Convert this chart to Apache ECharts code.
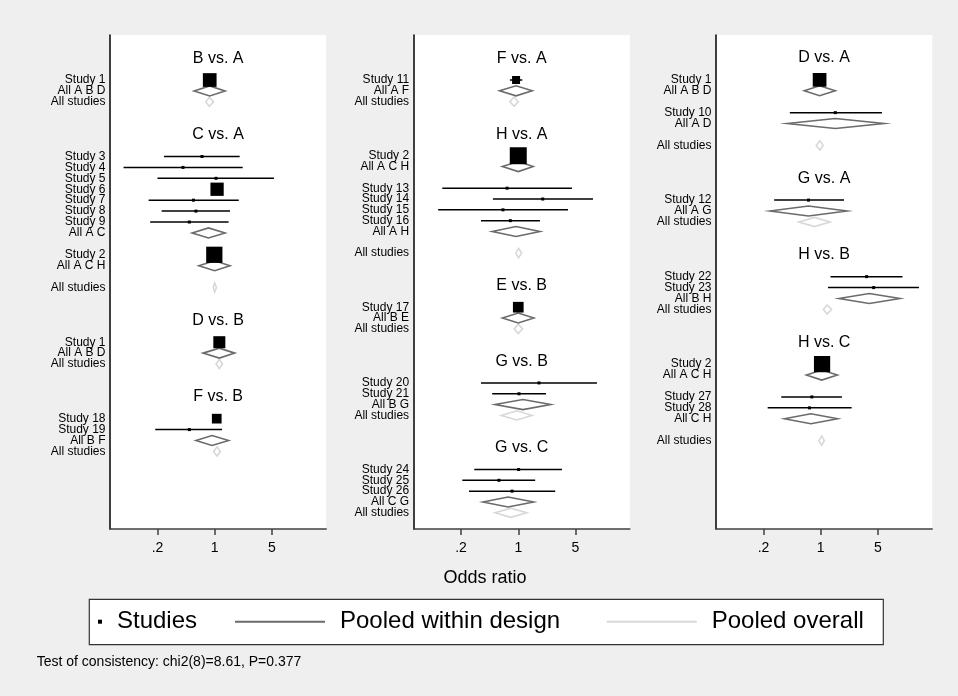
<!DOCTYPE html>
<html><head><meta charset="utf-8">
<script src="https://cdn.jsdelivr.net/npm/echarts@6/dist/echarts.min.js"></script>
<style>html,body{margin:0;padding:0;background:#efefef}#c{width:958px;height:696px}</style>
</head><body><div id="c"></div>
<script>
const FONT = '"Liberation Sans", Arial, Helvetica, sans-serif';

// Odds-ratio axis ticks
const tickValues = [0.2, 1, 5];
const tickLabels = ['.2', '1', '5'];
const legendNames = ['Studies', 'Pooled within design', 'Pooled overall'];
const axisTitle = 'Odds ratio';
const footnote = 'Test of consistency: chi2(8)=8.61, P=0.377';

// Rows top to bottom: [label, kind, OR, lower, upper, weight]
// kind: T = comparison title, S = study, D = pooled within design, O = pooled overall, '' = empty row
const panel1Rows = [
  ['B vs. A','T'], ['',''],
  ['Study 1','S',0.87,0.75,1.01,47],
  ['All A B D','D',0.87,0.56,1.34],
  ['All studies','O',0.86,0.78,0.97],
  ['',''], ['',''],
  ['C vs. A','T'], ['',''],
  ['Study 3','S',0.70,0.24,2.02,2.25],
  ['Study 4','S',0.41,0.077,2.20,2.25],
  ['Study 5','S',1.04,0.20,5.30,2.25],
  ['Study 6','S',1.07,0.93,1.23,44],
  ['Study 7','S',0.55,0.156,1.97,2.25],
  ['Study 8','S',0.59,0.225,1.54,2.25],
  ['Study 9','S',0.49,0.163,1.48,2.25],
  ['All A C','D',0.84,0.53,1.34],
  ['',''],
  ['Study 2','S',0.99,0.85,1.15,66],
  ['All A C H','D',1.00,0.64,1.54],
  ['',''],
  ['All studies','O',1.00,0.96,1.05],
  ['',''], ['',''],
  ['D vs. B','T'], ['',''],
  ['Study 1','S',1.14,1.02,1.27,36],
  ['All A B D','D',1.14,0.72,1.76],
  ['All studies','O',1.14,1.04,1.25],
  ['',''], ['',''],
  ['F vs. B','T'], ['',''],
  ['Study 18','S',1.06,0.97,1.16,23.5],
  ['Study 19','S',0.49,0.188,1.23,2.25],
  ['All B F','D',0.93,0.59,1.48],
  ['All studies','O',1.07,0.97,1.17]
];

const panel2Rows = [
  ['F vs. A','T'], ['',''],
  ['Study 11','S',0.94,0.79,1.12,16],
  ['All A F','D',0.94,0.59,1.48],
  ['All studies','O',0.89,0.79,1.00],
  ['',''], ['',''],
  ['H vs. A','T'], ['',''],
  ['Study 2','S',1.00,0.86,1.16,72],
  ['All A C H','D',1.00,0.64,1.52],
  ['',''],
  ['Study 13','S',0.73,0.118,4.53,2.25],
  ['Study 14','S',1.99,0.49,8.18,2.25],
  ['Study 15','S',0.65,0.105,4.05,2.25],
  ['Study 16','S',0.80,0.35,1.84,2.25],
  ['All A H','D',0.94,0.48,1.84],
  ['',''],
  ['All studies','O',1.01,0.93,1.10],
  ['',''], ['',''],
  ['E vs. B','T'], ['',''],
  ['Study 17','S',1.00,0.90,1.11,28.6],
  ['All B E','D',1.00,0.64,1.55],
  ['All studies','O',1.00,0.89,1.13],
  ['',''], ['',''],
  ['G vs. B','T'], ['',''],
  ['Study 20','S',1.79,0.35,9.15,2.25],
  ['Study 21','S',1.02,0.48,2.18,2.25],
  ['All B G','D',1.14,0.52,2.49],
  ['All studies','O',0.96,0.62,1.48],
  ['',''], ['',''],
  ['G vs. C','T'], ['',''],
  ['Study 24','S',1.01,0.29,3.42,2.25],
  ['Study 25','S',0.58,0.207,1.61,2.25],
  ['Study 26','S',0.84,0.25,2.83,2.25],
  ['All C G','D',0.75,0.37,1.54],
  ['All studies','O',0.81,0.52,1.27]
];

const panel3Rows = [
  ['D vs. A','T'], ['',''],
  ['Study 1','S',0.97,0.85,1.10,47],
  ['All A B D','D',0.97,0.63,1.51],
  ['',''],
  ['Study 10','S',1.51,0.42,5.61,2.25],
  ['All A D','D',1.51,0.39,5.94],
  ['',''],
  ['All studies','O',0.98,0.88,1.07],
  ['',''], ['',''],
  ['G vs. A','T'], ['',''],
  ['Study 12','S',0.71,0.27,1.93,2.25],
  ['All A G','D',0.71,0.24,2.10],
  ['All studies','O',0.84,0.54,1.30],
  ['',''], ['',''],
  ['H vs. B','T'], ['',''],
  ['Study 22','S',3.65,1.32,10.0,2.25],
  ['Study 23','S',4.44,1.23,15.9,2.25],
  ['All B H','D',3.93,1.67,9.31],
  ['All studies','O',1.20,1.08,1.36],
  ['',''], ['',''],
  ['H vs. C','T'], ['',''],
  ['Study 2','S',1.04,0.90,1.20,66],
  ['All A C H','D',1.03,0.67,1.60],
  ['',''],
  ['Study 27','S',0.78,0.33,1.82,2.25],
  ['Study 28','S',0.73,0.225,2.39,2.25],
  ['All C H','D',0.76,0.36,1.61],
  ['',''],
  ['All studies','O',1.03,0.95,1.11]
];

// ---- layout / styling ----
const panels = [panel1Rows, panel2Rows, panel3Rows];
const yRanges = [[-2.12, 43.1], [-2.16, 43.5], [-2.1, 43.08]];
const gridLefts = [110, 413.6, 716];
const X_MIN = -1.83, X_MAX = 1.95;
const L5 = Math.log(5);
const lg = v => Math.log(v) / L5;
const tickPos = tickValues.map(lg);
const DESIGN_COLOR = '#6b6b6b', OVERALL_COLOR = '#d8d8d8';

const chart = echarts.init(document.getElementById('c'), null, {renderer: 'canvas'});

const grids = [], xAxes = [], yAxes = [], series = [];
panels.forEach((rows, i) => {
  grids.push({left: gridLefts[i], top: 35, width: 216.2, height: 494, show: true,
    backgroundColor: '#ffffff', borderWidth: 0, containLabel: false});
  xAxes.push({
    gridIndex: i, type: 'value', min: X_MIN, max: X_MAX, position: 'bottom',
    axisLine: {show: true, onZero: false, lineStyle: {color: '#404040', width: 1.5}},
    axisTick: {show: true, customValues: tickPos, length: 6, lineStyle: {color: '#404040', width: 1.5}},
    axisLabel: {customValues: tickPos, margin: 12, fontSize: 14, color: '#000', fontFamily: FONT,
      formatter: v => { const k = tickPos.findIndex(t => Math.abs(t - v) < 1e-6); return k >= 0 ? tickLabels[k] : ''; }},
    splitLine: {show: false}
  });
  yAxes.push({
    gridIndex: i, type: 'value', inverse: true, min: yRanges[i][0], max: yRanges[i][1],
    axisLine: {show: true, onZero: false, lineStyle: {color: '#000', width: 1.5}},
    axisTick: {show: false}, splitLine: {show: false}, axisLabel: {show: false}
  });

  const studies = [], design = [], overall = [], titleRows = [], titleTexts = [], labelRows = [], labelTexts = [];
  rows.forEach((r, k) => {
    if (r[1] === 'S') studies.push([k, lg(r[3]), lg(r[2]), lg(r[4]), r[5]]);
    else if (r[1] === 'D') design.push([k, lg(r[3]), lg(r[2]), lg(r[4])]);
    else if (r[1] === 'O') overall.push([k, lg(r[3]), lg(r[2]), lg(r[4])]);
    else if (r[1] === 'T') { titleRows.push([0, k]); titleTexts.push(r[0]); }
    if (r[1] === 'S' || r[1] === 'D' || r[1] === 'O') { labelRows.push([0, k]); labelTexts.push(r[0]); }
  });

  const diamond = (h, color) => (params, api) => {
    const row = api.value(0);
    const lo = api.coord([api.value(1), row]);
    const es = api.coord([api.value(2), row]);
    const hi = api.coord([api.value(3), row]);
    return {type: 'polygon', shape: {points: [[lo[0], lo[1]], [es[0], es[1] - h], [hi[0], hi[1]], [es[0], es[1] + h]]},
      style: {fill: 'rgba(255,255,255,0)', stroke: color, lineWidth: 1.6}};
  };

  series.push({
    type: 'custom', name: legendNames[2], xAxisIndex: i, yAxisIndex: i, clip: false,
    itemStyle: {color: OVERALL_COLOR}, encode: {x: [1, 2, 3], y: 0},
    renderItem: diamond(4.6, OVERALL_COLOR), data: overall, z: 2
  });
  series.push({
    type: 'custom', name: legendNames[1], xAxisIndex: i, yAxisIndex: i, clip: false,
    itemStyle: {color: DESIGN_COLOR}, encode: {x: [1, 2, 3], y: 0},
    renderItem: diamond(5, DESIGN_COLOR), data: design, z: 3
  });
  series.push({
    type: 'custom', name: legendNames[0], xAxisIndex: i, yAxisIndex: i, clip: false,
    itemStyle: {color: '#000'}, encode: {x: [1, 2, 3], y: 0}, z: 4,
    renderItem: (params, api) => {
      const row = api.value(0);
      const lo = api.coord([api.value(1), row]);
      const es = api.coord([api.value(2), row]);
      const hi = api.coord([api.value(3), row]);
      const s = 2 * Math.sqrt(api.value(4));
      return {type: 'group', children: [
        {type: 'line', shape: {x1: lo[0], y1: lo[1], x2: hi[0], y2: hi[1]}, style: {stroke: '#000', lineWidth: 1.5}},
        {type: 'rect', shape: {x: es[0] - s / 2, y: es[1] - s / 2, width: s, height: s}, style: {fill: '#000'}}
      ]};
    },
    data: studies
  });
  // comparison titles inside the plot
  series.push({
    type: 'custom', name: 'titles' + i, xAxisIndex: i, yAxisIndex: i, clip: false,
    encode: {x: 0, y: 1}, silent: true, z: 5,
    renderItem: (params, api) => {
      const y = api.coord([0, api.value(1)])[1];
      const cs = params.coordSys;
      return {type: 'text', x: cs.x + cs.width / 2, y: y,
        style: {text: titleTexts[params.dataIndex], fontSize: 16, fontFamily: FONT, fill: '#000',
          align: 'center', verticalAlign: 'middle'}};
    },
    data: titleRows
  });
  // row labels left of each panel
  series.push({
    type: 'custom', name: 'rowlabels' + i, xAxisIndex: i, yAxisIndex: i, clip: false,
    encode: {x: 0, y: 1}, silent: true, z: 5,
    renderItem: (params, api) => {
      const y = api.coord([0, api.value(1)])[1];
      const cs = params.coordSys;
      return {type: 'text', x: cs.x - 4.5, y: y,
        style: {text: labelTexts[params.dataIndex], fontSize: 12, fontFamily: FONT, fill: '#000',
          align: 'right', verticalAlign: 'middle'}};
    },
    data: labelRows
  });
});

const legendBase = {orient: 'horizontal', top: 609.7, padding: 0, selectedMode: false,
  textStyle: {fontSize: 24, color: '#000', fontFamily: FONT, padding: [0, 0, 0, 10]}};
const legends = [
  Object.assign({}, legendBase, {left: 98, itemWidth: 4, itemHeight: 4,
    data: [{name: legendNames[0], icon: 'rect', itemStyle: {color: '#000'}}]}),
  Object.assign({}, legendBase, {left: 235, itemWidth: 90, itemHeight: 2,
    data: [{name: legendNames[1], icon: 'rect', itemStyle: {color: DESIGN_COLOR}}]}),
  Object.assign({}, legendBase, {left: 606.7, itemWidth: 90, itemHeight: 2,
    data: [{name: legendNames[2], icon: 'rect', itemStyle: {color: OVERALL_COLOR}}]})
];

chart.setOption({
  backgroundColor: '#efefef',
  animation: false,
  grid: grids, xAxis: xAxes, yAxis: yAxes, series: series,
  legend: legends,
  graphic: [
    {type: 'rect', left: 88.7, top: 598.7, shape: {x: 0, y: 0, width: 794, height: 45.3},
      style: {fill: '#ffffff', stroke: '#333', lineWidth: 1.2}, z: 0},
    {type: 'text', x: 485, y: 578, style: {text: axisTitle, fontSize: 18, fontFamily: FONT, fill: '#000',
      align: 'center', verticalAlign: 'middle', textAlign: 'center', textVerticalAlign: 'middle'}},
    {type: 'text', x: 36.7, y: 661.7, style: {text: footnote, fontSize: 14, fontFamily: FONT, fill: '#000',
      align: 'left', verticalAlign: 'middle', textAlign: 'left', textVerticalAlign: 'middle'}}
  ]
});
</script></body></html>
